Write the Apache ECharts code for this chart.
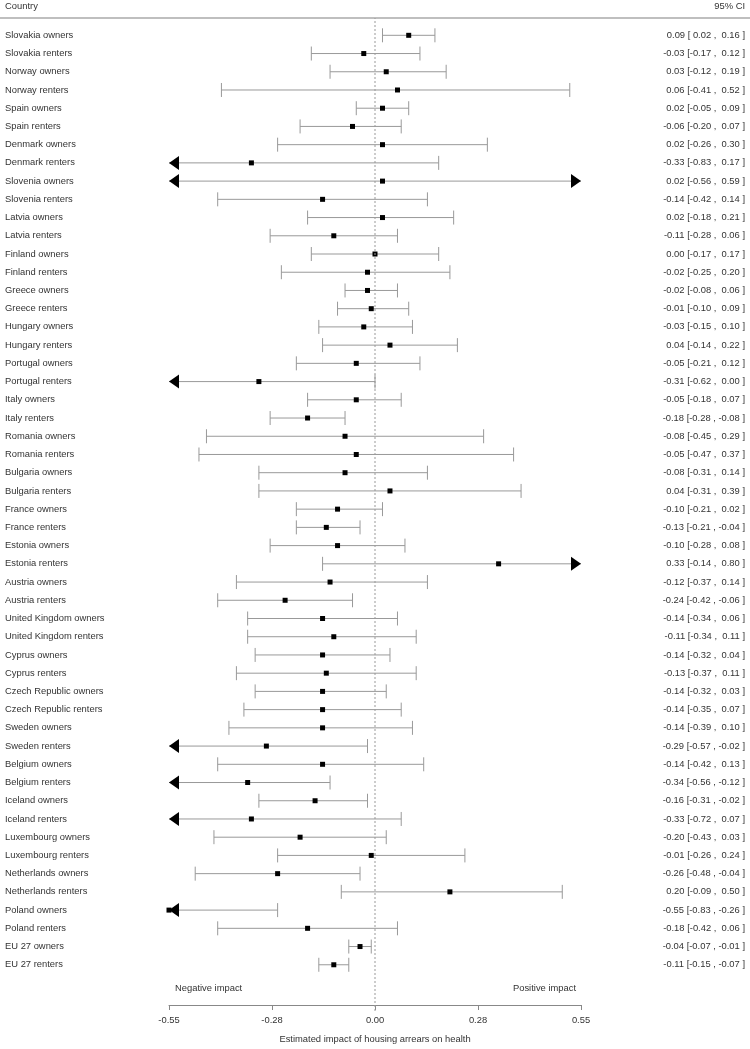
<!DOCTYPE html>
<html>
<head>
<meta charset="utf-8">
<script src="https://cdn.jsdelivr.net/npm/echarts@6/dist/echarts.min.js"></script>
<style>html,body{margin:0;padding:0;background:#fff}#c{width:750px;height:1049px}</style>
</head>
<body>
<div id="c"></div>
<script>
const categories = [
  "Slovakia owners","Slovakia renters","Norway owners","Norway renters","Spain owners","Spain renters",
  "Denmark owners","Denmark renters","Slovenia owners","Slovenia renters","Latvia owners","Latvia renters",
  "Finland owners","Finland renters","Greece owners","Greece renters","Hungary owners","Hungary renters",
  "Portugal owners","Portugal renters","Italy owners","Italy renters","Romania owners","Romania renters",
  "Bulgaria owners","Bulgaria renters","France owners","France renters","Estonia owners","Estonia renters",
  "Austria owners","Austria renters","United Kingdom owners","United Kingdom renters","Cyprus owners","Cyprus renters",
  "Czech Republic owners","Czech Republic renters","Sweden owners","Sweden renters","Belgium owners","Belgium renters",
  "Iceland owners","Iceland renters","Luxembourg owners","Luxembourg renters","Netherlands owners","Netherlands renters",
  "Poland owners","Poland renters","EU 27 owners","EU 27 renters"
];
const estimates = [
  0.09,-0.03,0.03,0.06,0.02,-0.06,
  0.02,-0.33,0.02,-0.14,0.02,-0.11,
  0.00,-0.02,-0.02,-0.01,-0.03,0.04,
  -0.05,-0.31,-0.05,-0.18,-0.08,-0.05,
  -0.08,0.04,-0.10,-0.13,-0.10,0.33,
  -0.12,-0.24,-0.14,-0.11,-0.14,-0.13,
  -0.14,-0.14,-0.14,-0.29,-0.14,-0.34,
  -0.16,-0.33,-0.20,-0.01,-0.26,0.20,
  -0.55,-0.18,-0.04,-0.11
];
const lower = [
  0.02,-0.17,-0.12,-0.41,-0.05,-0.20,
  -0.26,-0.83,-0.56,-0.42,-0.18,-0.28,
  -0.17,-0.25,-0.08,-0.10,-0.15,-0.14,
  -0.21,-0.62,-0.18,-0.28,-0.45,-0.47,
  -0.31,-0.31,-0.21,-0.21,-0.28,-0.14,
  -0.37,-0.42,-0.34,-0.34,-0.32,-0.37,
  -0.32,-0.35,-0.39,-0.57,-0.42,-0.56,
  -0.31,-0.72,-0.43,-0.26,-0.48,-0.09,
  -0.83,-0.42,-0.07,-0.15
];
const upper = [
  0.16,0.12,0.19,0.52,0.09,0.07,
  0.30,0.17,0.59,0.14,0.21,0.06,
  0.17,0.20,0.06,0.09,0.10,0.22,
  0.12,0.00,0.07,-0.08,0.29,0.37,
  0.14,0.39,0.02,-0.04,0.08,0.80,
  0.14,-0.06,0.06,0.11,0.04,0.11,
  0.03,0.07,0.10,-0.02,0.13,-0.12,
  -0.02,0.07,0.03,0.24,-0.04,0.50,
  -0.26,0.06,-0.01,-0.07
];
const tickLabels = ["-0.55","-0.28","0.00","0.28","0.55"];
const xMin = -0.55, xMax = 0.55, xInterval = 0.275;

const FONT = "'Liberation Sans', Arial, Helvetica, sans-serif";
const TXT = '#333';

function fmt(v){ const s = v.toFixed(2); return v < 0 ? s : ' ' + s; }
const ciLabels = categories.map((c,i)=> estimates[i].toFixed(2) + ' [' + fmt(lower[i]) + ' , ' + fmt(upper[i]) + ' ]');

const rowData = categories.map((c,i)=>[estimates[i], i, lower[i], upper[i]]);

const chart = echarts.init(document.getElementById('c'), null, {renderer:'canvas'});

function renderItem(params, api){
  const est = api.value(0), idx = api.value(1), lo = api.value(2), hi = api.value(3);
  const loC = Math.max(lo, xMin), hiC = Math.min(hi, xMax);
  const pLo = api.coord([loC, idx]);
  const pHi = api.coord([hiC, idx]);
  const pEst = api.coord([Math.max(Math.min(est,xMax),xMin), idx]);
  const y = pEst[1];
  const capH = 7, arrW = 10, arrH = 7, sq = 5;
  const gray = '#999';
  const children = [];
  let x1 = pLo[0], x2 = pHi[0];
  children.push({type:'line', shape:{x1:x1, y1:y, x2:x2, y2:y}, style:{stroke:gray, lineWidth:1}});
  if (lo < xMin) {
    children.push({type:'polygon', shape:{points:[[x1,y],[x1+arrW,y-arrH],[x1+arrW,y+arrH]]}, style:{fill:'#000'}});
  } else {
    children.push({type:'line', shape:{x1:x1, y1:y-capH, x2:x1, y2:y+capH}, style:{stroke:gray, lineWidth:1}});
  }
  if (hi > xMax) {
    children.push({type:'polygon', shape:{points:[[x2,y],[x2-arrW,y-arrH],[x2-arrW,y+arrH]]}, style:{fill:'#000'}});
  } else {
    children.push({type:'line', shape:{x1:x2, y1:y-capH, x2:x2, y2:y+capH}, style:{stroke:gray, lineWidth:1}});
  }
  children.push({type:'rect', shape:{x:pEst[0]-sq/2, y:y-sq/2, width:sq, height:sq}, style:{fill:'#000'}});
  return {type:'group', children:children};
}

const rowTop = 26.2, band = 18.34, n = categories.length;
const gridBottomEdge = rowTop + band*n;
const axisY = 1011;

chart.setOption({
  animation:false,
  textStyle:{fontFamily:FONT},
  grid:[
    {left:169, right:169, top:rowTop, bottom:1049-gridBottomEdge, containLabel:false},
    {left:169, right:169, top:18, bottom:1049-axisY, containLabel:false}
  ],
  xAxis:[
    {type:'value', gridIndex:0, min:xMin, max:xMax, interval:xInterval, offset:axisY-gridBottomEdge,
     axisLine:{show:true, lineStyle:{color:'#888', width:1}},
     axisTick:{show:true, length:5, lineStyle:{color:'#888'}},
     splitLine:{show:false},
     axisLabel:{color:TXT, fontSize:9.4, fontFamily:FONT, margin:11, showMinLabel:true, showMaxLabel:true,
       formatter:function(v){ const k = Math.round((v - xMin)/xInterval); return tickLabels[k] || ''; }},
     name:'Estimated impact of housing arrears on health', nameLocation:'middle', nameGap:30,
     nameTextStyle:{color:TXT, fontSize:9.4, fontFamily:FONT}},
    {type:'value', gridIndex:1, min:xMin, max:xMax, show:false}
  ],
  yAxis:[
    {type:'category', gridIndex:0, inverse:true, data:categories, position:'left',
     axisLine:{show:false}, axisTick:{show:false}, splitLine:{show:false},
     axisLabel:{align:'left', margin:164, color:TXT, fontSize:9.4, fontFamily:FONT, interval:0}},
    {type:'category', gridIndex:0, inverse:true, data:ciLabels, position:'right',
     axisLine:{show:false}, axisTick:{show:false}, splitLine:{show:false},
     axisLabel:{align:'right', margin:164, color:TXT, fontSize:9.4, fontFamily:FONT, interval:0}},
    {type:'value', gridIndex:1, min:0, max:1, show:false}
  ],
  series:[
    {type:'line', xAxisIndex:1, yAxisIndex:2, data:[[0,0],[0,1]], symbol:'none', silent:true,
     lineStyle:{color:'#999', width:1, type:[2,2]}},
    {type:'custom', xAxisIndex:0, yAxisIndex:0, renderItem:renderItem, data:rowData,
     encode:{x:[0,2,3], y:1}, clip:false}
  ],
  graphic:[
    {type:'line', shape:{x1:0, y1:18, x2:750, y2:18}, style:{stroke:'#aaa', lineWidth:1.5}},
    {type:'text', left:5, top:2, style:{text:'Country', fill:TXT, font:'9.4px ' + FONT}},
    {type:'text', right:5, top:2, style:{text:'95% CI', fill:TXT, font:'9.4px ' + FONT}},
    {type:'text', left:175, top:984, style:{text:'Negative impact', fill:TXT, font:'9.4px ' + FONT}},
    {type:'text', right:174, top:984, style:{text:'Positive impact', fill:TXT, font:'9.4px ' + FONT}}
  ]
});
</script>
</body>
</html>
